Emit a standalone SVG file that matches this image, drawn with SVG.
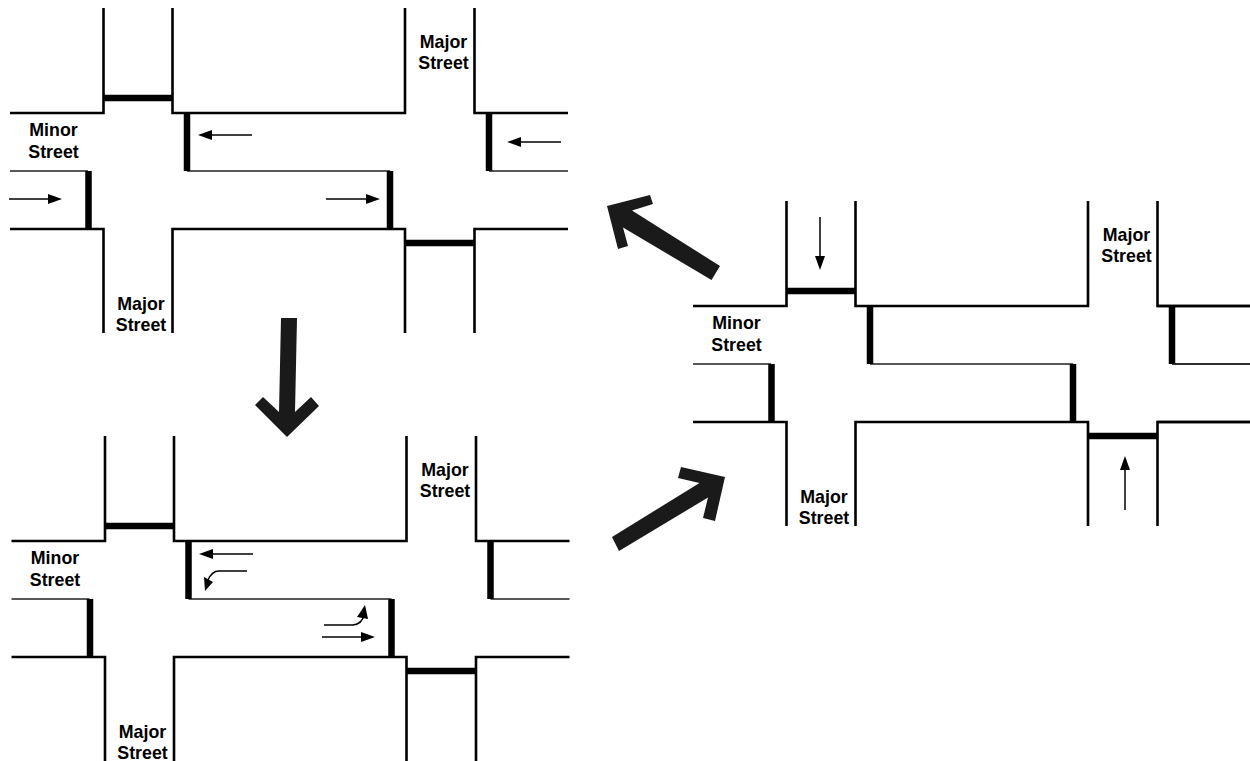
<svg xmlns="http://www.w3.org/2000/svg" width="1250" height="761" viewBox="0 0 1250 761">
<style>
.road{fill:none;stroke:#000;stroke-width:2.6}
.thin{fill:none;stroke:#222;stroke-width:1.4}
.bar{fill:none;stroke:#000;stroke-width:6.5}
.lbl{font-family:"Liberation Sans",Arial,sans-serif;font-size:17.8px;font-weight:bold;text-anchor:middle;fill:#000}
.move{fill:none;stroke:#000;stroke-width:1.5;marker-end:url(#head)}
.plain{fill:none;stroke:#000;stroke-width:1.5}
.big{fill:#1a1a1a}
</style>
<defs>
<marker id="head" markerUnits="userSpaceOnUse" markerWidth="14" markerHeight="10" refX="10" refY="5" orient="auto"><path d="M0 0L14 5L0 10Z" fill="#000"/></marker>
<g id="roads">
<path class="road" d="M103.500 8V113H10M172.500 8V113H405V8M474.500 8V113H568M10 229H103.500V333M172.500 333V229H405V333M474.500 333V229H568"/>
<path class="thin" d="M10 171H88M187 171H390M489 171H568"/>
<path class="bar" d="M104 98H172M187 113V171M489 113V171M88.500 171V229M390 171V229M405 243H474"/>
</g>
</defs>
<g id="intersection-a">
<use href="#roads"/>
<text class="lbl" x="443.500" y="48">Major</text><text class="lbl" x="443.500" y="69">Street</text>
<text class="lbl" x="53.500" y="136">Minor</text><text class="lbl" x="53.500" y="158">Street</text>
<text class="lbl" x="141" y="310">Major</text><text class="lbl" x="141" y="331">Street</text>
</g>
<g id="intersection-b" transform="translate(1.500 428)">
<use href="#roads"/>
<text class="lbl" x="443.500" y="48">Major</text><text class="lbl" x="443.500" y="69">Street</text>
<text class="lbl" x="53.500" y="136">Minor</text><text class="lbl" x="53.500" y="158">Street</text>
<text class="lbl" x="141" y="310">Major</text><text class="lbl" x="141" y="331">Street</text>
</g>
<g id="intersection-c" transform="translate(683 193)">
<use href="#roads"/>
<path class="road" d="M474.500 113H567M474.500 229H567"/>
<path class="thin" d="M489 171H567"/>
<text class="lbl" x="443.500" y="48">Major</text><text class="lbl" x="443.500" y="69">Street</text>
<text class="lbl" x="53.500" y="136">Minor</text><text class="lbl" x="53.500" y="158">Street</text>
<text class="lbl" x="141" y="310">Major</text><text class="lbl" x="141" y="331">Street</text>
</g>
<g id="connectors">
<path class="move" d="M252 135H202"/>
<path class="move" d="M561 142H511"/>
<path class="move" d="M9 199H58"/>
<path class="move" d="M326 199H376"/>
<path class="move" d="M820 217V266"/>
<path class="move" d="M1125 510V460"/>
<path class="move" d="M253 554H203"/>
<path class="plain" d="M247 571H219Q212 571 208 580"/>
<polygon points="205,591 204,577 213,582"/>
<path class="plain" d="M324 625H353Q362 624 364 615"/>
<polygon points="365,605 368,619 357,617"/>
<path class="move" d="M322 637H371"/>
<polygon class="big" points="281,318 297,318 295,412 311,397 319,406 287,437 255,405 263,397 279,412"/>
<polygon class="big" points="607,206 650,195 653,204 632,210.500 720,266 711.500,280 623,227.500 628,246 618,249"/>
<polygon class="big" points="725,477 681,467 678,478 699.500,483 612,537 619,551 708,497.500 703,518 715,521"/>
</g>
</svg>
